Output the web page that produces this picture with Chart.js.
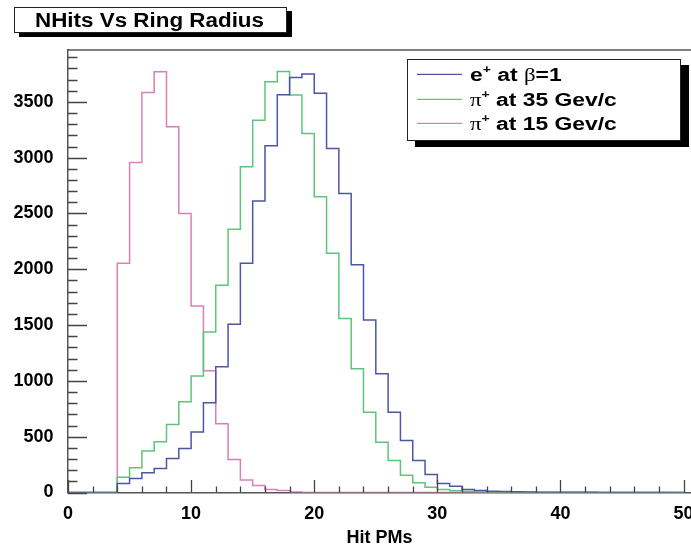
<!DOCTYPE html>
<html><head><meta charset="utf-8">
<script src="https://cdn.jsdelivr.net/npm/chart.js@4.4.0/dist/chart.umd.min.js"></script>
<style>html,body{margin:0;padding:0;background:#fff;}#wrap{width:691px;height:546px;position:relative;}</style>
</head><body><div id="wrap"><canvas id="c" width="691" height="546"></canvas></div>
<script>
// Bin low edges (Hit PMs), bin width 1
const binLow = [0,1,2,3,4,5,6,7,8,9,10,11,12,13,14,15,16,17,18,19,20,21,22,23,24,25,26,27,28,29,30,31,32,33,34,35,36,37,38,39,40,41,42,43,44,45,46,47,48,49];
const binEnd = 50;
// e+ at beta=1
const ePos = [0,0,0,0,81,126,176,215,305,395,541,804,1127,1507,2054,2613,3106,3563,3719,3749,3578,3082,2679,2040,1545,1064,720,466,287,161,81,57,27,18,12,8,6,4,3,3,2,2,2,1,1,1,1,1,1,1];
// pi+ at 35 GeV/c
const pi35 = [0,0,0,0,137,221,371,454,610,813,1043,1438,1857,2359,2918,3336,3680,3773,3561,3217,2649,2143,1558,1109,720,451,287,155,87,48,27,15,8,5,3,2,1,1,0,0,0,0,0,0,0,0,0,0,0,0];
// pi+ at 15 GeV/c
const pi15 = [0,0,0,0,2054,2957,3585,3770,3277,2500,1671,1091,616,296,113,62,27,18,5,0,0,0,0,0,0,0,0,0,0,0,0,0,0,0,0,0,0,0,0,0,0,0,0,0,0,0,0,0,0,0];
const seriesLabels = ['e\u207A at \u03B2=1', '\u03C0\u207A at 35 Gev/c', '\u03C0\u207A at 15 Gev/c'];
const seriesColors = ['#4b56a5', '#5cc57a', '#d780ba'];
const yTickValues = [0,500,1000,1500,2000,2500,3000,3500];
const xTickValues = [0,10,20,30,40,50];
const yTickStep = 500, xTickStep = 10;
const titleText = 'NHits Vs Ring Radius';
const xTitle = 'Hit PMs';

function toSteps(vals){
  const pts = binLow.map((x,i)=>({x:x, y:vals[i]}));
  pts.push({x:binEnd, y:vals[vals.length-1]});
  return pts;
}
const allSeries = [ePos, pi35, pi15];

const SANS = '"Liberation Sans", Arial, sans-serif';

function drawRich(ctx, text, x, y, size){
  let cx = x;
  for (const ch of text){
    let c = ch, dy = 0;
    if (ch === '\u03C0' || ch === '\u03B2'){ ctx.font = size + 'px "Liberation Serif", serif'; }
    else if (ch === '\u207A'){ ctx.font = 'bold ' + Math.round(size*0.62) + 'px ' + SANS; c = '+'; dy = -size*0.42; }
    else { ctx.font = 'bold ' + size + 'px ' + SANS; }
    ctx.fillText(c, cx, y + dy);
    cx += ctx.measureText(c).width;
  }
}

const decor = {
  id:'decor',
  afterDraw(chart){
    const {ctx, chartArea:a, scales:{x, y}} = chart;
    ctx.save();
    // top frame line
    ctx.strokeStyle = '#555'; ctx.lineWidth = 1.5;
    ctx.beginPath(); ctx.moveTo(a.left, a.top); ctx.lineTo(chart.width, a.top); ctx.stroke();
    // ticks drawn inside the frame
    ctx.strokeStyle = '#444'; ctx.lineWidth = 1.3;
    ctx.beginPath();
    for (let v = 0; v <= y.max; v += 100){
      const py = Math.round(y.getPixelForValue(v)) + 0.5;
      const len = (v % yTickStep === 0) ? 19 : 9.5;
      ctx.moveTo(a.left, py); ctx.lineTo(a.left + len, py);
    }
    for (let v = 0; v <= x.max; v += 2){
      const px = Math.round(x.getPixelForValue(v)) + 0.5;
      const len = (v % xTickStep === 0) ? 12.5 : 6;
      ctx.moveTo(px, a.bottom); ctx.lineTo(px, a.bottom - len);
    }
    ctx.stroke();

    // title box
    ctx.fillStyle = '#000';
    ctx.fillRect(19, 11, 273, 26);
    ctx.fillStyle = '#fff';
    ctx.fillRect(14, 7, 273, 26);
    ctx.strokeStyle = '#222'; ctx.lineWidth = 1;
    ctx.strokeRect(14.5, 7.5, 272, 25);
    ctx.fillStyle = '#000';
    ctx.font = 'bold 20px ' + SANS;
    ctx.textBaseline = 'alphabetic';
    ctx.save();
    ctx.translate(35, 27.3); ctx.scale(1.12, 1);
    ctx.fillText(titleText, 0, 0);
    ctx.restore();

    // legend box
    const lx = 407, ly = 59, lw = 274, lh = 82;
    ctx.fillStyle = '#000';
    ctx.fillRect(lx + 8, ly + 6, lw, lh);
    ctx.fillStyle = '#fff';
    ctx.fillRect(lx, ly, lw, lh);
    ctx.strokeStyle = '#222'; ctx.lineWidth = 1;
    ctx.strokeRect(lx + 0.5, ly + 0.5, lw - 1, lh - 1);
    const rows = [74.3, 99.3, 123.3];
    chart.data.datasets.forEach((ds, i) => {
      const ry = rows[i];
      ctx.strokeStyle = ds.borderColor; ctx.lineWidth = 1.3;
      ctx.beginPath(); ctx.moveTo(417, ry); ctx.lineTo(462, ry); ctx.stroke();
      ctx.fillStyle = '#000';
      ctx.save();
      ctx.translate(470, ry + 6.5); ctx.scale(1.27, 1);
      drawRich(ctx, ds.label, 0, 0, 18);
      ctx.restore();
    });
    ctx.restore();
  }
};

new Chart(document.getElementById('c'), {
  type:'line',
  data:{
    datasets: allSeries.map((vals, i) => ({
      label: seriesLabels[i],
      data: toSteps(vals),
      borderColor: seriesColors[i],
      backgroundColor: seriesColors[i],
      borderWidth: 1.5,
      pointRadius: 0,
      stepped: 'before',
      fill: false,
      tension: 0
    }))
  },
  options:{
    responsive:false,
    animation:false,
    events:[],
    layout:{padding:{top:50, right:0, left:0, bottom:0}},
    plugins:{legend:{display:false}, title:{display:false}, tooltip:{enabled:false}},
    scales:{
      x:{
        type:'linear', min:0, max:50.6,
        grid:{display:false, drawTicks:false},
        border:{display:true, color:'#555', width:1.5},
        ticks:{color:'#000', padding:11, maxRotation:0, autoSkip:false,
               callback:(v) => String(v),
               font:{family:SANS, size:18, weight:'bold'}},
        afterBuildTicks(s){ s.ticks = xTickValues.map(v => ({value:v})); },
        title:{display:true, text:xTitle, color:'#000', padding:{top:0,bottom:0},
               font:{family:SANS, size:18, weight:'bold', lineHeight:0.9}},
        afterFit(s){ s.height = 53.5; s.paddingLeft = 0; s.paddingRight = 0; }
      },
      y:{
        type:'linear', min:0, max:3965,
        grid:{display:false, drawTicks:false},
        border:{display:true, color:'#555', width:1.5},
        ticks:{color:'#000', padding:14.5, autoSkip:false,
               callback:(v) => String(v),
               font:{family:SANS, size:18, weight:'bold'}},
        afterBuildTicks(s){ s.ticks = yTickValues.map(v => ({value:v})); },
        afterFit(s){ s.width = 68; s.paddingTop = 0; s.paddingBottom = 0; }
      }
    }
  },
  plugins:[decor]
});
</script>
</body></html>
